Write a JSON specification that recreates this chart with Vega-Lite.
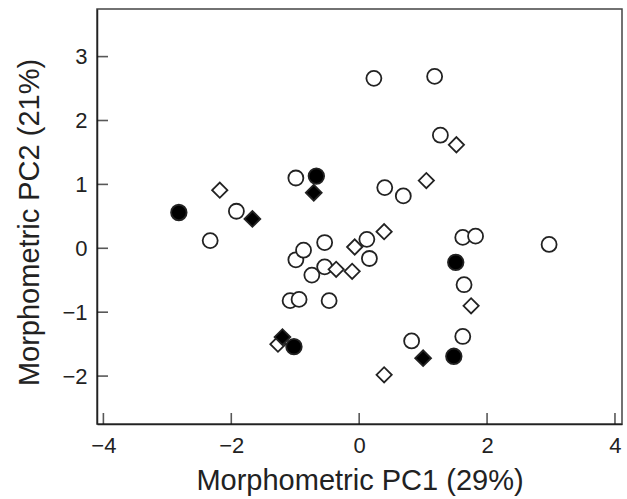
{
  "$schema": "https://vega.github.io/schema/vega-lite/v6.json",
  "width": 525,
  "height": 415,
  "autosize": {"type": "none"},
  "padding": {"left": 97, "top": 9, "right": 5, "bottom": 75},
  "background": "white",
  "config": {
    "view": {"stroke": "#444", "strokeWidth": 1.5},
    "axis": {
      "grid": false,
      "ticks": false,
      "tickSize": 0,
      "domainColor": "#222",
      "domainWidth": 1.5,
      "labelFont": "Liberation Sans",
      "labelFontSize": 22,
      "labelColor": "#222",
      "titleFont": "Liberation Sans",
      "titleFontSize": 29,
      "titleFontWeight": "normal",
      "titleColor": "#222"
    }
  },
  "datasets": {
    "xticks": [{"v": -4}, {"v": -2}, {"v": 0}, {"v": 2}, {"v": 4}],
    "yticks": [{"v": -2}, {"v": -1}, {"v": 0}, {"v": 1}, {"v": 2}, {"v": 3}],
    "pts": [
      {"pc1": -2.33, "pc2": 0.12, "group": "oc"},
      {"pc1": -1.92, "pc2": 0.58, "group": "oc"},
      {"pc1": -0.99, "pc2": 1.10, "group": "oc"},
      {"pc1": -0.99, "pc2": -0.18, "group": "oc"},
      {"pc1": -0.87, "pc2": -0.03, "group": "oc"},
      {"pc1": -0.54, "pc2": 0.09, "group": "oc"},
      {"pc1": 0.12, "pc2": 0.14, "group": "oc"},
      {"pc1": 0.16, "pc2": -0.16, "group": "oc"},
      {"pc1": -0.74, "pc2": -0.42, "group": "oc"},
      {"pc1": -0.54, "pc2": -0.29, "group": "oc"},
      {"pc1": -1.08, "pc2": -0.82, "group": "oc"},
      {"pc1": -0.94, "pc2": -0.80, "group": "oc"},
      {"pc1": -0.47, "pc2": -0.82, "group": "oc"},
      {"pc1": 0.82, "pc2": -1.45, "group": "oc"},
      {"pc1": 1.64, "pc2": -0.57, "group": "oc"},
      {"pc1": 1.62, "pc2": -1.38, "group": "oc"},
      {"pc1": 0.40, "pc2": 0.95, "group": "oc"},
      {"pc1": 0.69, "pc2": 0.82, "group": "oc"},
      {"pc1": 1.62, "pc2": 0.17, "group": "oc"},
      {"pc1": 1.82, "pc2": 0.19, "group": "oc"},
      {"pc1": 2.97, "pc2": 0.06, "group": "oc"},
      {"pc1": 0.23, "pc2": 2.66, "group": "oc"},
      {"pc1": 1.18, "pc2": 2.69, "group": "oc"},
      {"pc1": 1.27, "pc2": 1.77, "group": "oc"},
      {"pc1": -2.18, "pc2": 0.91, "group": "od"},
      {"pc1": -0.07, "pc2": 0.02, "group": "od"},
      {"pc1": 0.39, "pc2": 0.26, "group": "od"},
      {"pc1": -0.36, "pc2": -0.33, "group": "od"},
      {"pc1": -0.11, "pc2": -0.36, "group": "od"},
      {"pc1": -1.27, "pc2": -1.50, "group": "od"},
      {"pc1": 0.39, "pc2": -1.98, "group": "od"},
      {"pc1": 1.75, "pc2": -0.90, "group": "od"},
      {"pc1": 1.52, "pc2": 1.62, "group": "od"},
      {"pc1": 1.05, "pc2": 1.06, "group": "od"},
      {"pc1": -2.82, "pc2": 0.56, "group": "fc"},
      {"pc1": -0.67, "pc2": 1.13, "group": "fc"},
      {"pc1": -1.02, "pc2": -1.54, "group": "fc"},
      {"pc1": 1.51, "pc2": -0.22, "group": "fc"},
      {"pc1": 1.48, "pc2": -1.69, "group": "fc"},
      {"pc1": -1.67, "pc2": 0.46, "group": "fd"},
      {"pc1": -0.71, "pc2": 0.87, "group": "fd"},
      {"pc1": -1.20, "pc2": -1.39, "group": "fd"},
      {"pc1": 1.00, "pc2": -1.72, "group": "fd"}
    ]
  },
  "encoding": {
    "x": {
      "type": "quantitative",
      "scale": {"domain": [-4.1, 4.11], "nice": false, "zero": false},
      "axis": {"values": [-4, -2, 0, 2, 4], "title": "Morphometric PC1 (29%)", "labelPadding": 11, "titlePadding": 10}
    },
    "y": {
      "type": "quantitative",
      "scale": {"domain": [-2.75, 3.745], "nice": false, "zero": false},
      "axis": {"values": [-2, -1, 0, 1, 2, 3], "title": "Morphometric PC2 (21%)", "labelPadding": 10, "titlePadding": 17, "titleY": 213}
    }
  },
  "layer": [
    {
      "data": {"name": "xticks"},
      "mark": {"type": "tick", "orient": "vertical", "size": 22, "thickness": 1.6, "color": "#111", "clip": true},
      "encoding": {
        "x": {"field": "v", "type": "quantitative"},
        "y": {"datum": -2.75, "type": "quantitative"}
      }
    },
    {
      "data": {"name": "yticks"},
      "mark": {"type": "tick", "orient": "horizontal", "size": 22, "thickness": 1.6, "color": "#111", "clip": true},
      "encoding": {
        "x": {"datum": -4.1, "type": "quantitative"},
        "y": {"field": "v", "type": "quantitative"}
      }
    },
    {
      "data": {"name": "pts"},
      "mark": {"type": "point", "filled": true, "stroke": "#222", "strokeWidth": 1.8, "opacity": 1},
      "encoding": {
        "x": {"field": "pc1", "type": "quantitative", "title": "Morphometric PC1 (29%)"},
        "y": {"field": "pc2", "type": "quantitative", "title": "Morphometric PC2 (21%)"},
        "shape": {
          "field": "group", "type": "nominal",
          "scale": {"domain": ["oc", "od", "fc", "fd"], "range": ["circle", "diamond", "circle", "diamond"]},
          "legend": null
        },
        "fill": {
          "field": "group", "type": "nominal",
          "scale": {"domain": ["oc", "od", "fc", "fd"], "range": ["white", "white", "black", "black"]},
          "legend": null
        },
        "size": {
          "field": "group", "type": "nominal",
          "scale": {"domain": ["oc", "od", "fc", "fd"], "range": [225, 250, 240, 250]},
          "legend": null
        }
      }
    }
  ]
}
